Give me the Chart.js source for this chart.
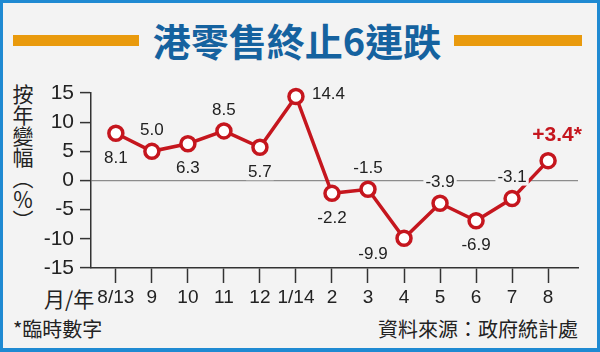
<!DOCTYPE html>
<html>
<head>
<meta charset="utf-8">
<script src="https://cdn.jsdelivr.net/npm/chart.js@4"></script>
<style>
  body { margin: 0; background: #fff; }
  #wrap {
    position: relative; width: 600px; height: 352px; overflow: hidden;
    background: #f3f3f3;
    box-shadow: inset 3px 3px 0 0 #1f8ad2, inset -3px -4px 0 0 #1f8ad2;
    font-family: 'Noto Sans CJK TC', 'Noto Sans', sans-serif; color: #222;
  }
  #chart { position: absolute; left: 0; top: 0; }
  .bar { position: absolute; top: 35px; height: 11px; background: #e99a0d; }
  #title {
    position: absolute; left: 0; top: 18px; width: 594px; text-align: center;
    font-size: 38px; line-height: 44px; font-weight: 700; color: #15629f;
  }
  #ytitle {
    position: absolute; left: 12px; top: 84px; writing-mode: vertical-rl;
    font-size: 21px; line-height: 22px; font-weight: 400;
  }
  #xunit { position: absolute; left: 44px; top: 284px; font-size: 21px; line-height: 28px; font-weight: 400; }
  #note { position: absolute; left: 13px; top: 315px; font-size: 20px; line-height: 28px; font-weight: 400; }
  #src { position: absolute; right: 22px; top: 315px; font-size: 20px; line-height: 28px; font-weight: 400; }
</style>
</head>
<body>
<div id="wrap">
  <div class="bar" style="left:13px;width:126px"></div>
  <div class="bar" style="left:454px;width:128px"></div>
  <div id="title">港零售終止6連跌</div>
  <div id="ytitle">按年變幅（％）</div>
  <div id="xunit">月/年</div>
  <div id="note">*臨時數字</div>
  <div id="src">資料來源：政府統計處</div>
  <canvas id="chart" width="600" height="352"></canvas>
</div>
<script>
// 月份標籤與按年變幅（%）
const months = ['8/13', '9', '10', '11', '12', '1/14', '2', '3', '4', '5', '6', '7', '8'];
const changes = [8.1, 5.0, 6.3, 8.5, 5.7, 14.4, -2.2, -1.5, -9.9, -3.9, -6.9, -3.1, 3.4];
const valueLabels = ['8.1', '5.0', '6.3', '8.5', '5.7', '14.4', '-2.2', '-1.5', '-9.9', '-3.9', '-6.9', '-3.1', '+3.4*'];
const labelSide = ['below', 'above', 'below', 'above', 'below', 'right', 'below', 'above', 'belowleft', 'above', 'below', 'above', 'last'];
const yTicks = [-15, -10, -5, 0, 5, 10, 15];

const red = '#c5161e';
const numFont = "'Liberation Sans Narrow', 'Arial Narrow', 'Liberation Sans', sans-serif";

// 數值標籤
const valueLabelPlugin = {
    id: 'valueLabels',
    afterDatasetsDraw(chart) {
        const ctx = chart.ctx;
        const pts = chart.getDatasetMeta(0).data;
        ctx.save();
        pts.forEach((p, i) => {
            let x = p.x, y = p.y, align = 'center';
            ctx.font = '17px ' + numFont;
            ctx.fillStyle = '#222';
            switch (labelSide[i]) {
                case 'above': y -= 21; break;
                case 'below': y += 25; break;
                case 'right': x += 16; y -= 2; align = 'left'; break;
                case 'belowleft': x -= 31; y += 16; break;
                case 'last':
                    x += 9; y -= 25;
                    ctx.font = 'bold 21px ' + numFont;
                    ctx.fillStyle = red;
                    break;
            }
            ctx.textAlign = align;
            ctx.textBaseline = 'middle';
            const w = ctx.measureText(valueLabels[i]).width;
            const fill = ctx.fillStyle;
            ctx.fillStyle = '#f3f3f3';
            const left = align === 'left' ? x : x - w / 2;
            ctx.fillRect(left - 2, y - 8, w + 4, 16);
            ctx.fillStyle = fill;
            ctx.fillText(valueLabels[i], x, y);
        });
        ctx.restore();
    }
};

new Chart(document.getElementById('chart'), {
    type: 'line',
    data: {
        datasets: [{
            data: changes.map((v, i) => ({ x: i, y: v })),
            borderColor: red,
            borderWidth: 3.5,
            pointRadius: 7,
            pointBorderWidth: 3.5,
            pointBackgroundColor: '#fff',
            pointBorderColor: red,
            tension: 0,
            clip: false
        }]
    },
    options: {
        responsive: false,
        devicePixelRatio: 1,
        animation: false,
        layout: { padding: { top: 93, right: 22, left: 0, bottom: 0 } },
        plugins: { legend: { display: false }, tooltip: { enabled: false } },
        scales: {
            x: {
                type: 'linear',
                min: -0.69,
                max: 12.83,
                afterFit: s => { s.height = 84; },
                afterBuildTicks: s => { s.ticks = months.map((m, i) => ({ value: i })); },
                border: { color: '#333', width: 1.5 },
                grid: { drawOnChartArea: false, tickLength: 15, tickColor: '#333', tickWidth: 1.5 },
                ticks: {
                    callback: v => months[v],
                    color: '#222',
                    padding: 3,
                    maxRotation: 0,
                    autoSkip: false,
                    font: { family: numFont, size: 19 }
                }
            },
            y: {
                min: -15,
                max: 15,
                afterFit: s => { s.width = 91; },
                afterBuildTicks: s => { s.ticks = yTicks.map(v => ({ value: v })); },
                border: { color: '#333', width: 1.5 },
                grid: {
                    color: c => c.tick && c.tick.value === 0 ? '#8c8c8c' : 'rgba(0,0,0,0)',
                    lineWidth: 1.2,
                    tickLength: 11,
                    tickColor: '#333',
                    tickWidth: 1.5
                },
                ticks: {
                    color: '#222',
                    padding: 6,
                    autoSkip: false,
                    font: { family: numFont, size: 21 }
                }
            }
        }
    },
    plugins: [valueLabelPlugin]
});
</script>
</body>
</html>
